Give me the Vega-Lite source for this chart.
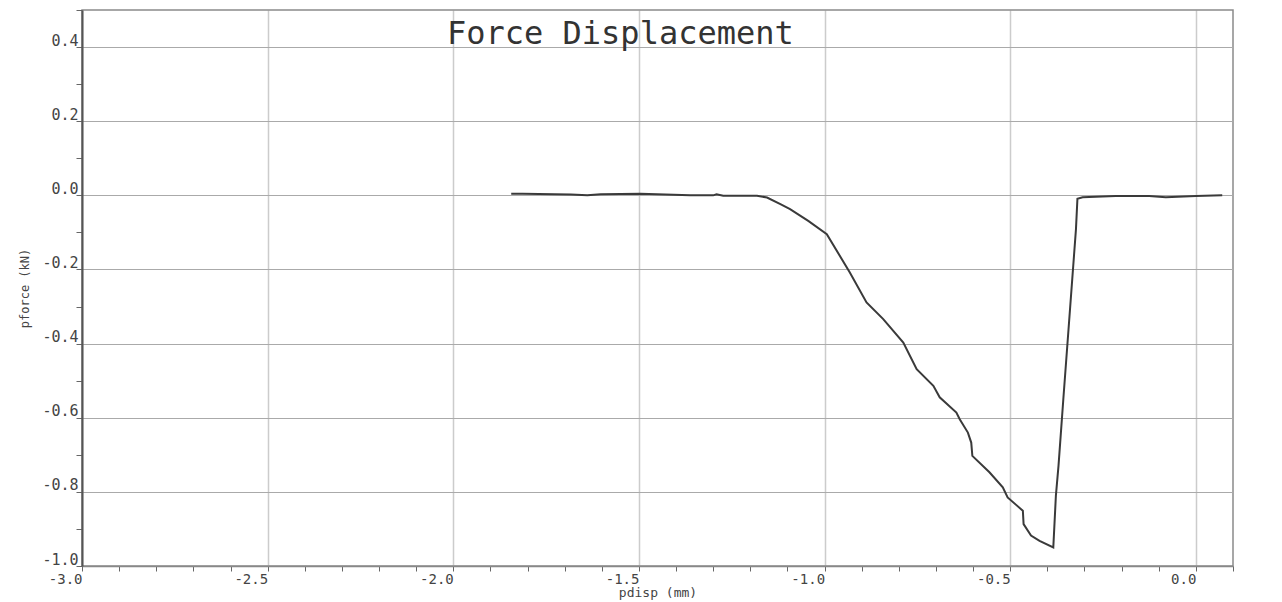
{
  "$schema": "https://vega.github.io/schema/vega-lite/v6.json",
  "autosize": {"type": "none"},
  "width": 1151,
  "height": 556,
  "padding": {"left": 82, "top": 10, "right": 49, "bottom": 36},
  "background": "white",
  "config": {
    "view": {"stroke": "#8a8a8a", "strokeWidth": 1.5},
    "font": "DejaVu Sans Mono"
  },
  "datasets": {
    "curve": [
      {"pdisp": -1.844, "pforce": 0.004},
      {"pdisp": -1.813, "pforce": 0.004},
      {"pdisp": -1.683, "pforce": 0.002},
      {"pdisp": -1.639, "pforce": 0.0},
      {"pdisp": -1.603, "pforce": 0.003},
      {"pdisp": -1.496, "pforce": 0.004},
      {"pdisp": -1.362, "pforce": 0.0},
      {"pdisp": -1.3, "pforce": 0.0},
      {"pdisp": -1.291, "pforce": 0.003},
      {"pdisp": -1.273, "pforce": -0.001},
      {"pdisp": -1.182, "pforce": -0.001},
      {"pdisp": -1.155, "pforce": -0.006},
      {"pdisp": -1.119, "pforce": -0.024},
      {"pdisp": -1.093, "pforce": -0.037},
      {"pdisp": -1.044, "pforce": -0.069},
      {"pdisp": -0.994, "pforce": -0.105},
      {"pdisp": -0.932, "pforce": -0.208},
      {"pdisp": -0.887, "pforce": -0.289},
      {"pdisp": -0.842, "pforce": -0.334},
      {"pdisp": -0.788, "pforce": -0.397},
      {"pdisp": -0.752, "pforce": -0.469},
      {"pdisp": -0.707, "pforce": -0.514},
      {"pdisp": -0.69, "pforce": -0.545},
      {"pdisp": -0.645, "pforce": -0.586},
      {"pdisp": -0.636, "pforce": -0.604},
      {"pdisp": -0.614, "pforce": -0.64},
      {"pdisp": -0.605, "pforce": -0.667},
      {"pdisp": -0.602, "pforce": -0.703},
      {"pdisp": -0.556, "pforce": -0.747},
      {"pdisp": -0.52, "pforce": -0.788},
      {"pdisp": -0.507, "pforce": -0.815},
      {"pdisp": -0.466, "pforce": -0.851},
      {"pdisp": -0.464, "pforce": -0.887},
      {"pdisp": -0.444, "pforce": -0.918},
      {"pdisp": -0.421, "pforce": -0.932},
      {"pdisp": -0.384, "pforce": -0.95},
      {"pdisp": -0.377, "pforce": -0.81},
      {"pdisp": -0.37, "pforce": -0.73},
      {"pdisp": -0.357, "pforce": -0.55},
      {"pdisp": -0.323, "pforce": -0.092},
      {"pdisp": -0.319, "pforce": -0.009},
      {"pdisp": -0.305, "pforce": -0.005},
      {"pdisp": -0.216, "pforce": -0.002},
      {"pdisp": -0.126, "pforce": -0.002},
      {"pdisp": -0.081, "pforce": -0.005},
      {"pdisp": 0.0, "pforce": -0.002},
      {"pdisp": 0.071, "pforce": 0.0}
    ],
    "title": [
      {"label": "Force Displacement", "pdisp": -1.55, "pforce": 0.435}
    ]
  },
  "layer": [
    {
      "data": {"name": "curve"},
      "mark": {"type": "line", "color": "#3a3a3a", "strokeWidth": 2},
      "encoding": {
        "x": {
          "field": "pdisp",
          "type": "quantitative",
          "scale": {"domain": [-3.0, 0.1], "nice": false, "zero": false},
          "axis": {
            "title": "pdisp (mm)",
            "titleFont": "DejaVu Sans Mono",
            "titleFontSize": 13,
            "titleFontWeight": "normal",
            "titleColor": "#444",
            "titlePadding": 0,
            "tickCount": 100,
            "values": [-3.0, -2.9, -2.8, -2.7, -2.6, -2.5, -2.4, -2.3, -2.2, -2.1, -2.0, -1.9, -1.8, -1.7, -1.6, -1.5, -1.4, -1.3, -1.2, -1.1, -1.0, -0.9, -0.8, -0.7, -0.6, -0.5, -0.4, -0.3, -0.2, -0.1, 0.0, 0.1],
            "labelExpr": "abs(datum.value*2 - round(datum.value*2)) < 0.000001 ? replace(format(datum.value, '.1f'), '\u2212', '-') : ''",
            "labelAlign": "right",
            "labelBaseline": "top",
            "labelFlush": false,
            "labelPadding": 1,
            "labelFont": "DejaVu Sans Mono",
            "labelFontSize": 14,
            "labelColor": "#444",
            "labelOverlap": false,
            "tickSize": 5,
            "tickColor": "#666",
            "domainColor": "#888",
            "domainWidth": 1.5,
            "grid": true,
            "gridColor": "#999",
            "gridWidth": 1.5,
            "gridDash": [1, 1],
            "gridOpacity": {"condition": {"test": "abs(datum.value*2 - round(datum.value*2)) < 0.000001", "value": 1}, "value": 0}
          }
        },
        "y": {
          "field": "pforce",
          "type": "quantitative",
          "scale": {"domain": [-1.0, 0.5], "nice": false, "zero": false},
          "axis": {
            "title": "pforce (kN)",
            "titleFont": "DejaVu Sans Mono",
            "titleFontSize": 12,
            "titleFontWeight": "normal",
            "titleColor": "#444",
            "titlePadding": 10,
            "tickCount": 100,
            "values": [-1.0, -0.9, -0.8, -0.7, -0.6, -0.5, -0.4, -0.3, -0.2, -0.1, 0.0, 0.1, 0.2, 0.3, 0.4, 0.5],
            "labelExpr": "abs(datum.value*5 - round(datum.value*5)) < 0.000001 && datum.value < 0.45 ? replace(format(datum.value, '.1f'), '\u2212', '-') : ''",
            "labelAlign": "right",
            "labelBaseline": "alphabetic",
            "labelOffset": -2,
            "labelFlush": false,
            "labelPadding": -2,
            "labelFont": "DejaVu Sans Mono",
            "labelFontSize": 15,
            "labelColor": "#444",
            "labelOverlap": false,
            "tickSize": 6,
            "tickColor": "#666",
            "domainColor": "#555",
            "domainWidth": 2,
            "grid": true,
            "gridColor": "#aaa",
            "gridWidth": 1,
            "gridOpacity": {"condition": {"test": "abs(datum.value*5 - round(datum.value*5)) < 0.000001", "value": 1}, "value": 0}
          }
        }
      }
    },
    {
      "data": {"name": "title"},
      "mark": {"type": "text", "font": "DejaVu Sans Mono", "fontSize": 32, "color": "#333", "align": "center", "baseline": "middle"},
      "encoding": {
        "x": {"field": "pdisp", "type": "quantitative"},
        "y": {"field": "pforce", "type": "quantitative"},
        "text": {"field": "label"}
      }
    }
  ]
}
